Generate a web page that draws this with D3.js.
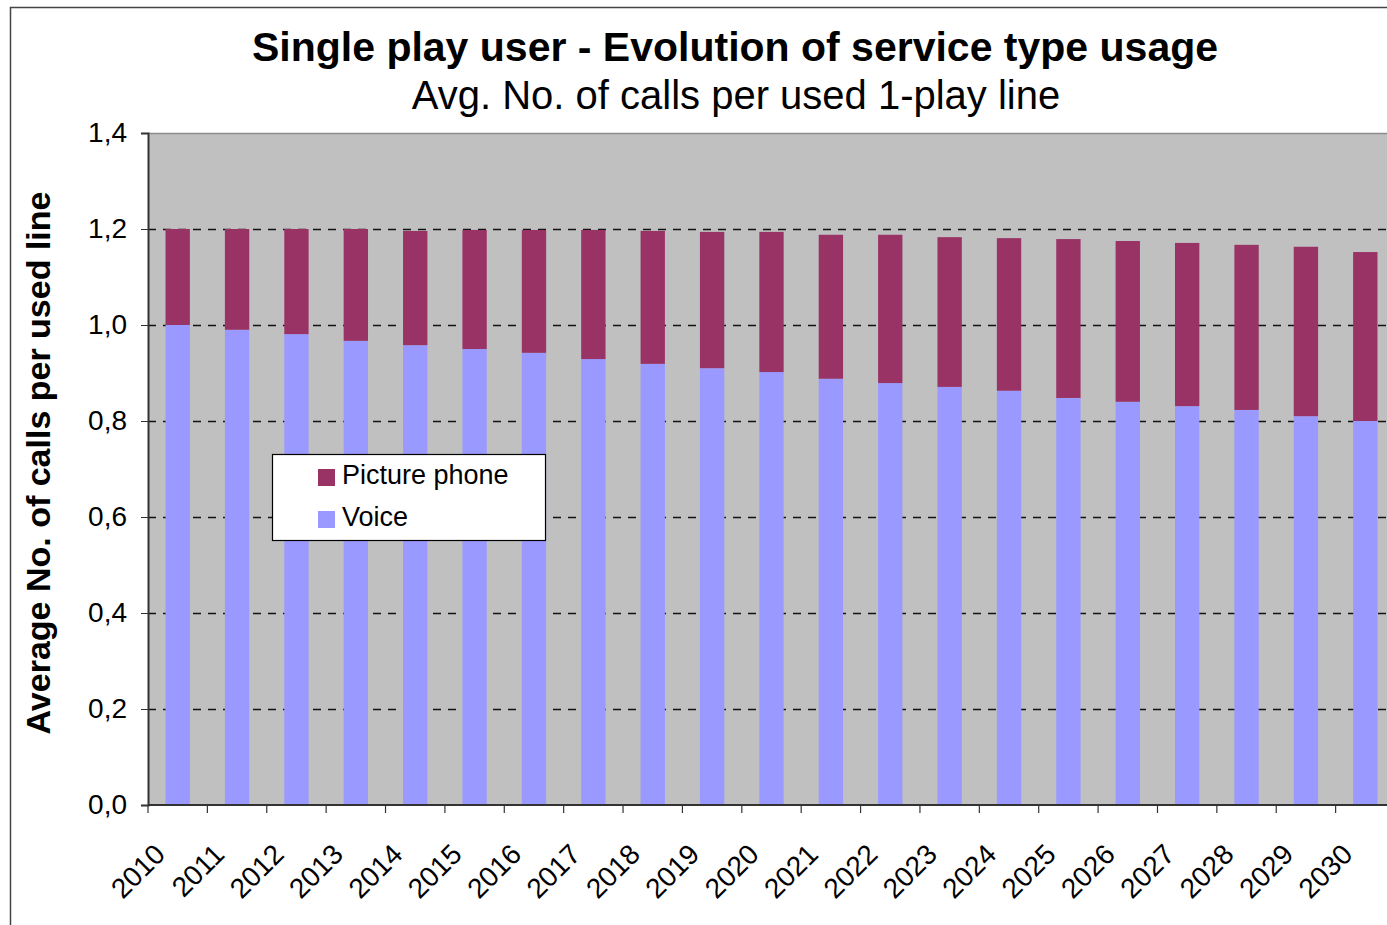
<!DOCTYPE html>
<html>
<head>
<meta charset="utf-8">
<script src="https://cdn.jsdelivr.net/npm/d3@7"></script>
<style>
  html, body { margin: 0; padding: 0; background: #fff; }
  svg { display: block; font-family: "Liberation Sans", Arial, sans-serif; }
</style>
</head>
<body>
<svg id="chart" width="1387" height="925"></svg>
<script>
// Years on the category axis
const years = ["2010","2011","2012","2013","2014","2015","2016","2017","2018","2019","2020",
               "2021","2022","2023","2024","2025","2026","2027","2028","2029","2030"];
// Average number of calls per used 1-play line, by service
const voice = [1.000,0.990,0.981,0.967,0.958,0.950,0.942,0.929,0.919,0.910,0.902,
               0.888,0.879,0.871,0.863,0.848,0.840,0.831,0.823,0.810,0.800];
const picturePhone = [0.200,0.210,0.219,0.233,0.238,0.248,0.256,0.269,0.277,0.284,0.292,
                      0.300,0.309,0.312,0.318,0.331,0.335,0.340,0.344,0.353,0.352];
const yTicks = [0,0.2,0.4,0.6,0.8,1.0,1.2,1.4];
const seriesNames = ["Voice","Picture phone"];
const colors = {"Voice":"#9999FF","Picture phone":"#993366"};

const rows = years.map((y,i) => ({year:y, "Voice":voice[i], "Picture phone":picturePhone[i]}));
const stacked = d3.stack().keys(seriesNames)(rows);

const svg = d3.select("#chart");
const plot = {left:148, top:133, right:1395, bottom:805};

// chart frame
svg.append("rect").attr("x",10.5).attr("y",7.5).attr("width",1420).attr("height",960)
  .attr("fill","#fff").attr("stroke","#444").attr("stroke-width",1.5);

const x = d3.scaleBand().domain(years).range([plot.left, plot.right]).paddingInner(0).paddingOuter(0);
const y = d3.scaleLinear().domain([0,1.4]).range([plot.bottom, plot.top]);
const barW = x.bandwidth()*0.41;

// plot area
svg.append("rect").attr("x",plot.left).attr("y",plot.top)
  .attr("width",plot.right-plot.left).attr("height",plot.bottom-plot.top).attr("fill","#C0C0C0");
svg.append("line").attr("x1",plot.left).attr("x2",plot.right).attr("y1",plot.top+0.5).attr("y2",plot.top+0.5)
  .attr("stroke","#8c8c8c").attr("stroke-width",1.5);

// dashed gridlines
svg.append("g").selectAll("line").data(yTicks.filter(t => t>0 && t<1.4)).join("line")
  .attr("x1",plot.left).attr("x2",plot.right)
  .attr("y1",d => Math.round(y(d))+0.5).attr("y2",d => Math.round(y(d))+0.5)
  .attr("stroke","#111").attr("stroke-width",1.5).attr("stroke-dasharray","8,7");

// stacked bars
svg.append("g").selectAll("g").data(stacked).join("g")
  .attr("fill",d => colors[d.key])
  .selectAll("rect").data(d => d).join("rect")
  .attr("x",d => x(d.data.year) + (x.bandwidth()-barW)/2)
  .attr("width",barW)
  .attr("y",d => y(d[1]))
  .attr("height",d => y(d[0]) - y(d[1]));

// y axis
const yAxis = d3.axisLeft(y).tickValues(yTicks).tickSize(7).tickPadding(14)
  .tickFormat(d => d3.format(".1f")(d).replace(".",","));
const gy = svg.append("g").attr("transform",`translate(${plot.left},0)`).call(yAxis);
gy.select(".domain").attr("stroke","#333").attr("stroke-width",2);
gy.selectAll(".tick line").attr("stroke","#333");
gy.selectAll("text").attr("font-size",28).attr("fill","#000")
  .attr("font-family","Liberation Sans, Arial, sans-serif");

// x axis: ticks at category boundaries
const gx = svg.append("g").attr("transform",`translate(0,${plot.bottom})`);
gx.append("line").attr("x1",plot.left).attr("x2",plot.right).attr("y1",0).attr("y2",0)
  .attr("stroke","#333").attr("stroke-width",2);
gx.selectAll("line.tk").data(years).join("line").attr("class","tk")
  .attr("x1",d => x(d)).attr("x2",d => x(d)).attr("y1",0).attr("y2",8)
  .attr("stroke","#333").attr("stroke-width",1.2);
gx.selectAll("text").data(years).join("text")
  .attr("transform",d => `translate(${x(d)+x.bandwidth()/2-11},51) rotate(-45)`)
  .attr("text-anchor","end").attr("font-size",28).attr("fill","#000").text(d => d);

// titles
svg.append("text").attr("x",735).attr("y",61).attr("text-anchor","middle")
  .attr("font-size",41).attr("font-weight","bold").text("Single play user - Evolution of service type usage");
svg.append("text").attr("x",736).attr("y",109).attr("text-anchor","middle")
  .attr("font-size",40).text("Avg. No. of calls per used 1-play line");
svg.append("text").attr("transform","translate(50,463) rotate(-90)").attr("text-anchor","middle")
  .attr("font-size",34).attr("font-weight","bold").text("Average No. of calls per used line");

// legend
const lg = svg.append("g").attr("transform","translate(272,454)");
lg.append("rect").attr("x",0.5).attr("y",0.5).attr("width",273).attr("height",86)
  .attr("fill","#fff").attr("stroke","#000").attr("stroke-width",1.2);
["Picture phone","Voice"].forEach((k,i) => {
  lg.append("rect").attr("x",46).attr("y",15+i*42).attr("width",17).attr("height",17).attr("fill",colors[k]);
  lg.append("text").attr("x",70).attr("y",30+i*42).attr("font-size",27).text(k);
});
</script>
</body>
</html>
